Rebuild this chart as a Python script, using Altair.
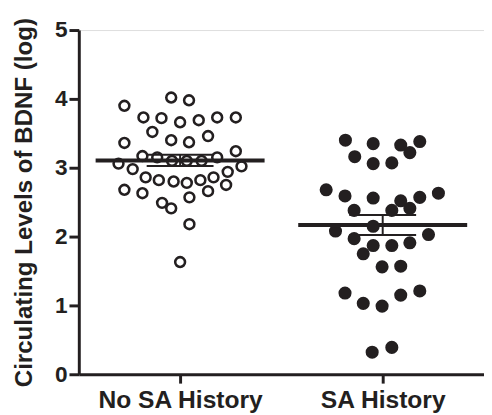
import altair as alt
import pandas as pd

categories = ["No SA History", "SA History"]

no_sa_values = [3.90, 4.02, 3.98, 3.73, 3.72, 3.66, 3.69, 3.73, 3.73,
                3.52, 3.46, 3.40, 3.37, 3.36, 3.24,
                3.17, 3.15, 3.10, 3.10, 3.10, 3.15,
                3.06, 2.98, 3.02, 2.94,
                2.86, 2.82, 2.80, 2.78, 2.82, 2.86,
                2.68, 2.63, 2.66, 2.75, 2.57, 2.49, 2.41,
                2.18, 1.63]
no_sa_jitter = [-0.275, -0.044, 0.044, -0.181, -0.092, 0.0, 0.092, 0.183, 0.275,
                -0.137, 0.138, -0.044, 0.044, -0.275, 0.275,
                -0.186, -0.113, -0.040, 0.033, 0.106, 0.183,
                -0.304, -0.234, 0.303, 0.235,
                -0.170, -0.105, -0.032, 0.033, 0.100, 0.165,
                -0.275, -0.186, 0.138, 0.227, 0.046, -0.089, -0.044,
                0.046, 0.0]

sa_values = [3.40, 3.35, 3.33, 3.38, 3.22, 3.16, 3.06, 3.07,
             2.68, 2.59, 2.56, 2.52, 2.57, 2.63, 2.38, 2.38, 2.41,
             2.15, 2.08, 2.03, 1.97, 1.87, 1.87, 1.91, 1.75, 1.56, 1.57,
             1.18, 1.03, 0.99, 1.15, 1.21, 0.32, 0.39]
sa_jitter = [-0.184, -0.047, 0.089, 0.183, 0.134, -0.138, -0.047, 0.045,
             -0.279, -0.186, -0.047, 0.089, 0.183, 0.275, -0.141, 0.045, 0.134,
             -0.047, -0.233, 0.226, -0.141, -0.047, 0.045, 0.134, -0.096, -0.003, 0.089,
             -0.186, -0.096, -0.003, 0.089, 0.183, -0.052, 0.045]

y_ticks = [0, 1, 2, 3, 4, 5]

rows = []
for i, (vals, jit) in enumerate([(no_sa_values, no_sa_jitter), (sa_values, sa_jitter)]):
    for v, j in zip(vals, jit):
        rows.append({"group": categories[i], "center": i + 0.5, "value": v, "pos": i + 0.5 + j})
df = pd.DataFrame(rows)

INK = "#231f20"

xscale = alt.Scale(domain=[0, 2], nice=False, zero=False)
yscale = alt.Scale(domain=[0, 5], nice=False)

label_expr = "[" + ",".join("'" + c + "'" for c in categories) + "][floor(datum.value)]"

xaxis = alt.Axis(values=[0.5, 1.5], labelExpr=label_expr, title=None, tickSize=9,
                 tickWidth=3, domainWidth=3, labelFontSize=25, labelFontWeight="bold",
                 labelPadding=5, grid=False, domainColor=INK, tickColor=INK,
                 labelColor=INK)
yaxis = alt.Axis(values=y_ticks, format="d", title="Circulating Levels of BDNF (log)",
                 tickSize=10, tickWidth=3, domainWidth=3, labelFontSize=23,
                 labelFontWeight="bold", labelPadding=2, titleFontSize=24.5,
                 titleFontWeight="bold", titlePadding=18, grid=False, domainColor=INK,
                 tickColor=INK, labelColor=INK, titleColor=INK)

base = alt.Chart(df)

open_pts = base.transform_filter(alt.datum.group == categories[0]).mark_point(
    shape="circle", filled=False, size=100, strokeWidth=2.6, color=INK, opacity=1
).encode(
    x=alt.X("pos:Q", scale=xscale, axis=xaxis),
    y=alt.Y("value:Q", scale=yscale, axis=yaxis),
)

filled_pts = base.transform_filter(alt.datum.group == categories[1]).mark_circle(
    size=177, color=INK, opacity=1
).encode(
    x=alt.X("pos:Q", scale=xscale),
    y=alt.Y("value:Q", scale=yscale),
)

stats = base.transform_aggregate(
    mean="mean(value)", sem="stderr(value)", groupby=["group", "center"]
).transform_calculate(
    lo="datum.mean - datum.sem",
    hi="datum.mean + datum.sem",
    mx0="datum.center - 0.417",
    mx1="datum.center + 0.417",
    cx0="datum.center - 0.165",
    cx1="datum.center + 0.165",
)

mean_line = stats.mark_rule(strokeWidth=4, color=INK).encode(
    x=alt.X("mx0:Q", scale=xscale), x2="mx1:Q", y=alt.Y("mean:Q", scale=yscale)
)
sem_v = stats.mark_rule(strokeWidth=2, color=INK).encode(
    x=alt.X("center:Q", scale=xscale), y=alt.Y("lo:Q", scale=yscale), y2="hi:Q"
)
cap_lo = stats.mark_rule(strokeWidth=2, color=INK).encode(
    x=alt.X("cx0:Q", scale=xscale), x2="cx1:Q", y=alt.Y("lo:Q", scale=yscale)
)
cap_hi = stats.mark_rule(strokeWidth=2, color=INK).encode(
    x=alt.X("cx0:Q", scale=xscale), x2="cx1:Q", y=alt.Y("hi:Q", scale=yscale)
)

chart = alt.layer(open_pts, filled_pts, mean_line, sem_v, cap_lo, cap_hi).properties(
    width=412, height=350,
    autosize=alt.AutoSizeParams(type="none"),
    padding={"left": 72, "top": 19, "right": 0, "bottom": 38},
).configure_view(stroke=None).configure(font="Liberation Sans")

chart.save("out.html", embed_options={"renderer": "svg", "actions": False})
